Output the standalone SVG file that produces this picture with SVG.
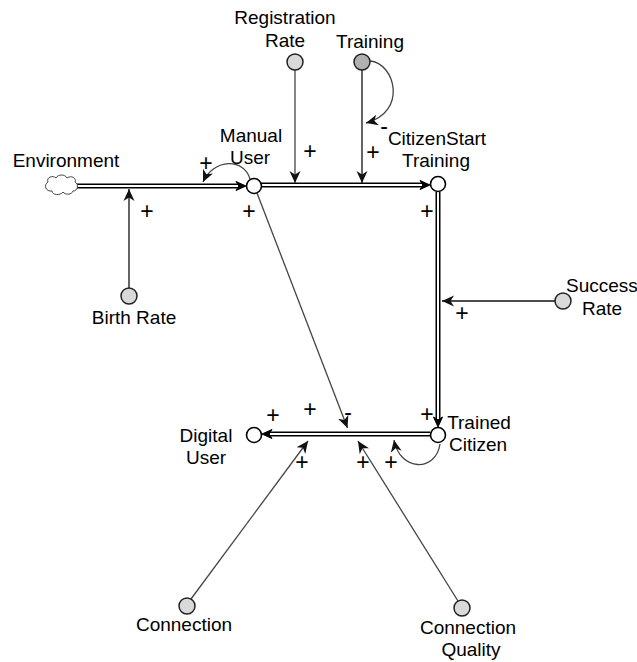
<svg xmlns="http://www.w3.org/2000/svg" width="637" height="662" viewBox="0 0 637 662">
<style>
text{font-family:"Liberation Sans",Arial,sans-serif;font-size:19px;fill:#000;text-anchor:middle}
.sign{font-size:23px}
.aux{fill:#d9d9d9;stroke:#222;stroke-width:1.5}
.dark{fill:#b0b0b0}
.stock{fill:#fff;stroke:#000;stroke-width:1.6}
.fo{stroke:#000;stroke-width:5;fill:none}
.fi{stroke:#fff;stroke-width:2;fill:none}
.fh{fill:#000;stroke:#000;stroke-width:1}
.c{fill:none;stroke:#444;stroke-width:1.3;marker-end:url(#arr)}
.cb{stroke:#111}
</style>
<defs>
<marker id="arr" markerUnits="userSpaceOnUse" markerWidth="14" markerHeight="12" refX="12" refY="6" orient="auto">
<path d="M0,0.5 L12,6 L0,11.5 L3.5,6 z" fill="#111"/>
</marker>
</defs>
<rect width="637" height="662" fill="#fff"/>
<g id="flows">
<g id="flow-env-manual">
<line class="fo" x1="76" y1="186" x2="240" y2="186"/>
<line class="fi" x1="76" y1="186" x2="238" y2="186"/>
<path class="fh" d="M246,186 L236,181.5 L239,186 L236,190.5 z"/>
</g>
<g id="flow-manual-start">
<line class="fo" x1="261" y1="185" x2="424" y2="185"/>
<line class="fi" x1="261" y1="185" x2="422" y2="185"/>
<path class="fh" d="M430,185 L420,180.5 L423,185 L420,189.5 z"/>
</g>
<g id="flow-start-trained">
<line class="fo" x1="438" y1="192" x2="438" y2="421"/>
<line class="fi" x1="438" y1="192" x2="438" y2="419"/>
<path class="fh" d="M438,427 L433.5,417 L438,420 L442.5,417 z"/>
</g>
<g id="flow-trained-digital">
<line class="fo" x1="430" y1="434" x2="268" y2="434"/>
<line class="fi" x1="430" y1="434" x2="270" y2="434"/>
<path class="fh" d="M262,434 L272,429.5 L269,434 L272,438.5 z"/>
</g>
</g>
<g id="connectors">
<line class="c" x1="295" y1="70" x2="295" y2="183"/>
<line class="c cb" x1="362" y1="70" x2="362" y2="183"/>
<path class="c" d="M370,61 C395,63 408,112 366,123"/>
<path class="c" d="M250,179 C244,158 214,158 203,182"/>
<line class="c cb" x1="129" y1="288" x2="129" y2="189"/>
<line class="c cb" x1="555" y1="301" x2="442" y2="301"/>
<line class="c" x1="257" y1="193" x2="347.5" y2="428"/>
<path class="c" d="M440,444 C436,472 400,472 394,440"/>
<line class="c" x1="191" y1="599" x2="308" y2="441"/>
<line class="c" x1="458" y1="601" x2="358" y2="441"/>
</g>
<g id="environment">
<path d="M48,182 C46,177 53,175 56,178 C58,174 65,174 67,178 C71,175 77,178 75,182 C79,184 78,191 73,191 C72,195 65,195 63,192 C60,196 52,195 52,191 C46,192 43,185 48,182 z" fill="#fff" stroke="#444" stroke-width="1"/>
<text x="66" y="167">Environment</text>
</g>
<g id="manual-user">
<circle class="stock" cx="254" cy="186" r="7.5"/>
<text x="251" y="142">Manual</text>
<text x="250" y="164">User</text>
</g>
<g id="citizen-start-training">
<circle class="stock" cx="438" cy="184" r="7.5"/>
<text x="437" y="145">CitizenStart</text>
<text x="436" y="167">Training</text>
</g>
<g id="trained-citizen">
<circle class="stock" cx="438" cy="435" r="7.5"/>
<text x="479" y="429">Trained</text>
<text x="478" y="451">Citizen</text>
</g>
<g id="digital-user">
<circle class="stock" cx="254" cy="435" r="7.5"/>
<text x="206" y="442">Digital</text>
<text x="206" y="464">User</text>
</g>
<g id="registration-rate">
<circle class="aux" cx="295" cy="62" r="8"/>
<text x="285" y="24">Registration</text>
<text x="285" y="47">Rate</text>
</g>
<g id="training">
<circle class="aux dark" cx="362" cy="62" r="8"/>
<text x="370" y="48">Training</text>
</g>
<g id="birth-rate">
<circle class="aux" cx="129" cy="296" r="8"/>
<text x="134" y="324">Birth Rate</text>
</g>
<g id="success-rate">
<circle class="aux" cx="563" cy="301" r="8"/>
<text x="566" y="292" style="text-anchor:start">Success</text>
<text x="602" y="315">Rate</text>
</g>
<g id="connection">
<circle class="aux" cx="187" cy="606" r="8"/>
<text x="184" y="631">Connection</text>
</g>
<g id="connection-quality">
<circle class="aux" cx="462" cy="608" r="8"/>
<text x="468" y="634">Connection</text>
<text x="471" y="656">Quality</text>
</g>
<g id="polarities">
<text class="sign" x="206" y="171">+</text>
<text class="sign" x="249" y="219">+</text>
<text class="sign" x="147" y="219">+</text>
<text class="sign" x="310" y="159">+</text>
<text class="sign" x="373" y="160">+</text>
<text class="sign" x="384" y="134">-</text>
<text class="sign" x="427" y="219">+</text>
<text class="sign" x="462" y="321">+</text>
<text class="sign" x="427" y="422">+</text>
<text class="sign" x="273" y="423">+</text>
<text class="sign" x="310" y="417">+</text>
<text class="sign" x="348" y="420">-</text>
<text class="sign" x="302" y="470">+</text>
<text class="sign" x="363" y="470">+</text>
<text class="sign" x="391" y="470">+</text>
</g>
</svg>
